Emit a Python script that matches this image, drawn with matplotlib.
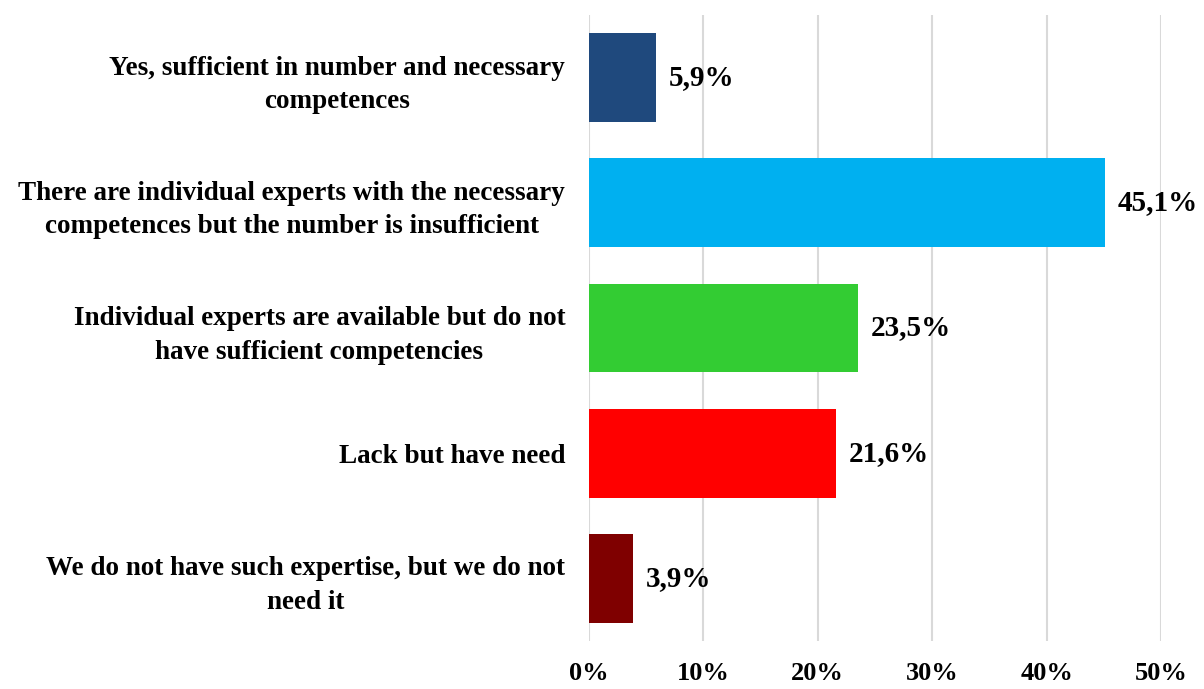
import matplotlib.pyplot as plt

# Dados do gráfico
categorias = [
    'Yes, sufficient in number and necessary\ncompetences',
    'There are individual experts with the necessary\ncompetences but the number is insufficient',
    'Individual experts are available but do not\nhave sufficient competencies',
    'Lack but have need',
    'We do not have such expertise, but we do not\nneed it',
]
valores = [5.9, 45.1, 23.5, 21.6, 3.9]
cores = ['#1F497D', '#00B0F0', '#33CC33', '#FF0000', '#7F0000']
ticks_x = [0, 10, 20, 30, 40, 50]

plt.rcParams['font.family'] = ['Liberation Serif', 'DejaVu Serif']
plt.rcParams['font.weight'] = 'bold'

fig = plt.figure(figsize=(12.04, 6.89), dpi=100)
ax = fig.add_axes([0.489, 0.0697, 0.4755, 0.9085])

pos = list(range(len(categorias)))
ax.barh(pos, valores, height=0.71, color=cores, zorder=3)

# Rótulos com os valores
for i, v in enumerate(valores):
    ax.annotate(f'{v:.1f}%'.replace('.', ','), (v, i), xytext=(9, 0),
                textcoords='offset points', va='center', ha='left',
                fontsize=21, fontweight='bold')

ax.set_xlim(0, 50)
ax.set_ylim(len(categorias) - 0.5, -0.5)
ax.set_xticks(ticks_x)
ax.set_xticklabels([f'{t}%' for t in ticks_x], fontsize=19, fontweight='bold')
ax.set_yticks(pos)
ax.set_yticklabels(categorias, fontsize=19.5, fontweight='bold',
                   multialignment='center', linespacing=1.45)
ax.tick_params(axis='both', length=0)
ax.tick_params(axis='y', pad=17)
ax.tick_params(axis='x', pad=15)

ax.grid(axis='x', color='#D9D9D9', linewidth=1.5, zorder=0)
for s in ax.spines.values():
    s.set_visible(False)

plt.savefig('out.png', dpi=100)
